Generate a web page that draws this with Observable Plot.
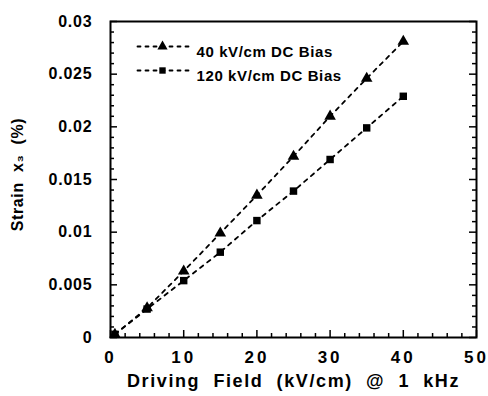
<!DOCTYPE html>
<html>
<head>
<meta charset="utf-8">
<script src="https://cdn.jsdelivr.net/npm/d3@7"></script>
<script src="https://cdn.jsdelivr.net/npm/@observablehq/plot@0.6"></script>
<style>
  html, body { margin: 0; padding: 0; background: white; }
  g[aria-label="x-axis tick label"] text { letter-spacing: 3px; }
  g[aria-label="y-axis tick label"] text { letter-spacing: 0.8px; }
  g[aria-label="text"] text { letter-spacing: 0.6px; }
</style>
</head>
<body>
<div id="chart"></div>
<script>
const field = [0.6, 5, 10, 15, 20, 25, 30, 35, 40];
const strain40 = [0.0003, 0.0028, 0.0063, 0.0099, 0.0135, 0.0172, 0.0210, 0.0246, 0.0281];
const strain120 = [0.0003, 0.0027, 0.0054, 0.0081, 0.0111, 0.0139, 0.0169, 0.0199, 0.0229];
const seriesNames = ["40 kV/cm DC Bias", "120 kV/cm DC Bias"];
const xMajor = [0, 10, 20, 30, 40, 50];
const xMinor = [2, 4, 6, 8, 12, 14, 16, 18, 22, 24, 26, 28, 32, 34, 36, 38, 42, 44, 46, 48];
const yMajor = [0, 0.005, 0.01, 0.015, 0.02, 0.025, 0.03];
const yMinor = [0.001, 0.002, 0.003, 0.004, 0.006, 0.007, 0.008, 0.009, 0.011, 0.012, 0.013, 0.014,
                0.016, 0.017, 0.018, 0.019, 0.021, 0.022, 0.023, 0.024, 0.026, 0.027, 0.028, 0.029];
const xTitle = "Driving  Field  (kV/cm)  @  1  kHz";
const yTitle = "Strain  x₃  (%)";

const W = 488, H = 396, mt = 21, mb = 59, ml = 110, mr = 12;
const pw = W - ml - mr, ph = H - mt - mb;

const s40 = field.map((x, i) => ({x, y: strain40[i]}));
const s120 = field.map((x, i) => ({x, y: strain120[i]}));

const lineShape = {draw(ctx, l) { ctx.moveTo(0, 0); ctx.lineTo(0, -l); }};

const chart = Plot.plot({
  width: W, height: H,
  marginTop: mt, marginBottom: mb, marginLeft: ml, marginRight: mr,
  style: {fontFamily: "'Liberation Sans', Arial, sans-serif", fontWeight: "bold", background: "white", color: "black"},
  x: {domain: [0, 50]},
  y: {domain: [0, 0.03]},
  marks: [
    // inward ticks: bottom, left, right
    Plot.tickX(xMajor, {x: d => d, insetTop: ph - 7, strokeWidth: 1.5}),
    Plot.tickX(xMinor, {x: d => d, insetTop: ph - 4, strokeWidth: 1.5}),
    Plot.tickY(yMajor, {y: d => d, insetRight: pw - 7, strokeWidth: 1.5}),
    Plot.tickY(yMinor, {y: d => d, insetRight: pw - 4, strokeWidth: 1.5}),
    Plot.tickY(yMajor, {y: d => d, insetLeft: pw - 7, strokeWidth: 1.5}),
    Plot.tickY(yMinor, {y: d => d, insetLeft: pw - 4, strokeWidth: 1.5}),
    Plot.frame({strokeWidth: 2}),
    Plot.axisX(xMajor, {tickSize: 0, tickPadding: 13, fontSize: 17, label: null, tickFormat: d => String(d)}),
    Plot.axisY(yMajor, {tickSize: 0, tickPadding: 18, fontSize: 16, label: null, tickFormat: d => String(d)}),
    Plot.text([xTitle], {text: d => d, frameAnchor: "bottom", dy: 49, fontSize: 18, fontWeight: "bold"}),
    Plot.text([yTitle], {text: d => d, frameAnchor: "left", textAnchor: "middle", rotate: -90, dx: -93, dy: -5, fontSize: 16, fontWeight: "bold"}),
    // data
    Plot.line(s40, {x: "x", y: "y", strokeDasharray: "4,5", strokeWidth: 1.8}),
    Plot.line(s120, {x: "x", y: "y", strokeDasharray: "4,5", strokeWidth: 1.8}),
    Plot.dot(s40, {x: "x", y: "y", symbol: "triangle", r: 4.3, fill: "black"}),
    Plot.dot(s120, {x: "x", y: "y", symbol: "square", r: 4.2, fill: "black"}),
    // legend
    Plot.vector([0], {frameAnchor: "top-left", dx: 27, dy: 25, length: 54, rotate: 90, anchor: "start", shape: lineShape, strokeDasharray: "3,5", strokeWidth: 1.8}),
    Plot.vector([0], {frameAnchor: "top-left", dx: 27, dy: 49, length: 54, rotate: 90, anchor: "start", shape: lineShape, strokeDasharray: "3,5", strokeWidth: 1.8}),
    Plot.dot([0], {frameAnchor: "top-left", dx: 52, dy: 25, symbol: "triangle", r: 3.8, fill: "black"}),
    Plot.dot([0], {frameAnchor: "top-left", dx: 52, dy: 49, symbol: "square", r: 3.6, fill: "black"}),
    Plot.text([seriesNames[0]], {text: d => d, frameAnchor: "top-left", dx: 86, dy: 25, textAnchor: "start", fontSize: 15, fontWeight: "bold"}),
    Plot.text([seriesNames[1]], {text: d => d, frameAnchor: "top-left", dx: 86, dy: 49, textAnchor: "start", fontSize: 15, fontWeight: "bold"})
  ]
});
d3.select(chart).selectAll("text").filter(function () { return this.textContent === xTitle; })
  .style("letter-spacing", "1.6px");
document.getElementById("chart").appendChild(chart);
</script>
</body>
</html>
